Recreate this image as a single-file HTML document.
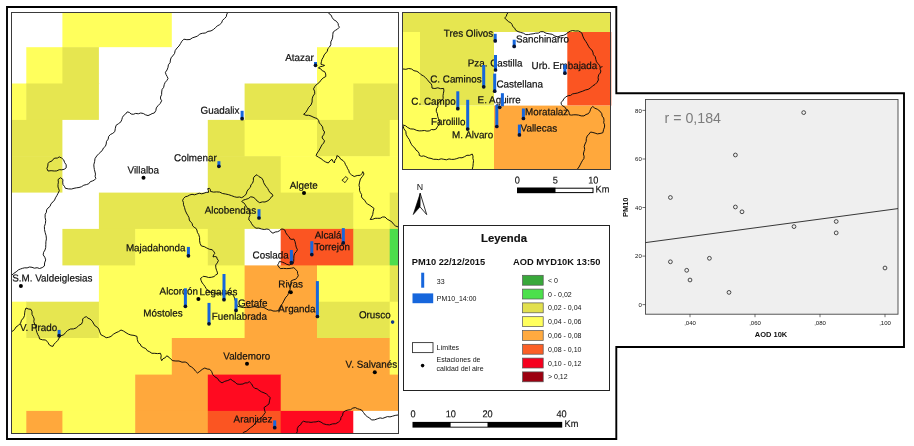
<!DOCTYPE html>
<html><head><meta charset="utf-8"><title>Mapa PM10 - AOD</title>
<style>
html,body{margin:0;padding:0;background:#fff;}
svg{display:block;font-family:"Liberation Sans",sans-serif;will-change:transform;}
</style></head><body>
<svg width="914" height="446" viewBox="0 0 914 446">
<rect x="0" y="0" width="914" height="446" fill="#fff"/>
<rect x="11" y="12" width="388" height="422" fill="#fff"/>
<rect x="11" y="12" width="52.0" height="35.8" fill="#ffffff"/>
<rect x="62.4" y="12" width="110.0" height="35.8" fill="#ffff5c"/>
<rect x="171.8" y="12" width="227.2" height="35.8" fill="#ffffff"/>
<rect x="11" y="47.2" width="15.9" height="36.9" fill="#ffffff"/>
<rect x="26.3" y="47.2" width="36.7" height="36.9" fill="#ffff5c"/>
<rect x="62.4" y="47.2" width="37.1" height="36.9" fill="#e6e650"/>
<rect x="98.9" y="47.2" width="218.7" height="36.9" fill="#ffffff"/>
<rect x="317" y="47.2" width="82.0" height="36.9" fill="#ffff5c"/>
<rect x="11" y="83.5" width="15.9" height="37.0" fill="#ffff5c"/>
<rect x="26.3" y="83.5" width="73.2" height="37.0" fill="#e6e650"/>
<rect x="98.9" y="83.5" width="146.3" height="37.0" fill="#ffffff"/>
<rect x="244.6" y="83.5" width="73.0" height="37.0" fill="#e6e650"/>
<rect x="317" y="83.5" width="36.9" height="37.0" fill="#ffff5c"/>
<rect x="353.3" y="83.5" width="45.7" height="37.0" fill="#e6e650"/>
<rect x="11" y="119.9" width="52.0" height="36.9" fill="#e6e650"/>
<rect x="62.4" y="119.9" width="146.0" height="36.9" fill="#ffffff"/>
<rect x="207.8" y="119.9" width="37.4" height="36.9" fill="#e6e650"/>
<rect x="244.6" y="119.9" width="73.0" height="36.9" fill="#ffff5c"/>
<rect x="317" y="119.9" width="73.3" height="36.9" fill="#e6e650"/>
<rect x="389.7" y="119.9" width="9.3" height="36.9" fill="#ffff5c"/>
<rect x="11" y="156.2" width="52.0" height="37.0" fill="#e6e650"/>
<rect x="62.4" y="156.2" width="146.0" height="37.0" fill="#ffffff"/>
<rect x="207.8" y="156.2" width="73.5" height="37.0" fill="#e6e650"/>
<rect x="280.7" y="156.2" width="118.3" height="37.0" fill="#ffff5c"/>
<rect x="11" y="192.6" width="88.5" height="36.9" fill="#ffffff"/>
<rect x="98.9" y="192.6" width="255.0" height="36.9" fill="#e6e650"/>
<rect x="353.3" y="192.6" width="37.0" height="36.9" fill="#ffff5c"/>
<rect x="389.7" y="192.6" width="9.3" height="36.9" fill="#e6e650"/>
<rect x="11" y="228.9" width="52.0" height="37.1" fill="#ffffff"/>
<rect x="62.4" y="228.9" width="73.4" height="37.1" fill="#e6e650"/>
<rect x="135.2" y="228.9" width="73.2" height="37.1" fill="#ffff5c"/>
<rect x="207.8" y="228.9" width="37.4" height="37.1" fill="#e6e650"/>
<rect x="244.6" y="228.9" width="36.7" height="37.1" fill="#ffffff"/>
<rect x="280.7" y="228.9" width="73.2" height="37.1" fill="#fb5522"/>
<rect x="353.3" y="228.9" width="37.0" height="37.1" fill="#e6e650"/>
<rect x="389.7" y="228.9" width="9.3" height="37.1" fill="#4cdd4c"/>
<rect x="11" y="265.4" width="88.5" height="36.9" fill="#ffffff"/>
<rect x="98.9" y="265.4" width="146.3" height="36.9" fill="#ffff5c"/>
<rect x="244.6" y="265.4" width="73.0" height="36.9" fill="#ffa83c"/>
<rect x="317" y="265.4" width="73.3" height="36.9" fill="#ffff5c"/>
<rect x="389.7" y="265.4" width="9.3" height="36.9" fill="#e6e650"/>
<rect x="11" y="301.7" width="15.9" height="36.9" fill="#ffff5c"/>
<rect x="26.3" y="301.7" width="73.2" height="36.9" fill="#e6e650"/>
<rect x="98.9" y="301.7" width="146.3" height="36.9" fill="#ffff5c"/>
<rect x="244.6" y="301.7" width="73.0" height="36.9" fill="#ffa83c"/>
<rect x="317" y="301.7" width="73.3" height="36.9" fill="#e6e650"/>
<rect x="389.7" y="301.7" width="9.3" height="36.9" fill="#ffff5c"/>
<rect x="11" y="338" width="161.4" height="37.2" fill="#ffff5c"/>
<rect x="171.8" y="338" width="218.5" height="37.2" fill="#ffa83c"/>
<rect x="389.7" y="338" width="9.3" height="37.2" fill="#ffff5c"/>
<rect x="11" y="374.6" width="124.8" height="36.9" fill="#ffff5c"/>
<rect x="135.2" y="374.6" width="73.2" height="36.9" fill="#ffa83c"/>
<rect x="207.8" y="374.6" width="73.5" height="36.9" fill="#ff0a20"/>
<rect x="280.7" y="374.6" width="118.3" height="36.9" fill="#ffa83c"/>
<rect x="11" y="410.9" width="15.9" height="23.1" fill="#ffff5c"/>
<rect x="26.3" y="410.9" width="36.7" height="23.1" fill="#ffa83c"/>
<rect x="62.4" y="410.9" width="73.4" height="23.1" fill="#ffff5c"/>
<rect x="135.2" y="410.9" width="73.2" height="23.1" fill="#ffa83c"/>
<rect x="207.8" y="410.9" width="73.5" height="23.1" fill="#fb5522"/>
<rect x="280.7" y="410.9" width="73.2" height="23.1" fill="#ff0a20"/>
<rect x="353.3" y="410.9" width="45.7" height="23.1" fill="#ffffff"/>
<path d="M228.3,12.0 L226.8,14.0 L226.3,16.6 L224.6,18.5 L222.5,20.3 L221.6,22.9 L219.6,24.7 L217.2,26.0 L215.3,27.8 L213.3,29.6 L211.0,30.9 L208.0,31.4 L205.3,33.0 L202.3,33.3 L199.6,34.1 L197.6,36.1 L195.0,37.0 L192.3,37.9 L190.0,39.5 L186.9,39.7 L183.9,39.2 L181.9,41.2 L180.5,43.6 L179.0,46.0 L177.0,48.0 L175.2,50.5 L174.5,53.6 L172.6,56.0 L171.1,57.8 L170.4,60.0 L170.1,62.6 L168.4,64.8 L168.0,67.4 L167.0,70.0 L165.4,72.3 L166.0,74.5 L167.1,76.4 L168.0,78.5 L166.8,80.6 L165.2,82.4 L164.2,84.7 L163.7,87.3 L162.1,89.4 L161.7,92.0 L161.6,94.6 L160.5,97.0 L160.6,99.0 L161.7,100.7 L160.2,103.5 L158.0,105.7 L156.3,107.9 L155.8,110.7 L154.3,113.0 L152.1,113.6 L150.1,114.7 L148.0,115.6 L145.5,114.8 L143.3,113.5 L140.7,113.0 L138.3,113.8 L135.7,113.4 L133.3,114.3 L131.1,114.0 L129.3,112.4 L127.2,111.9 L125.6,114.0 L123.5,115.6 L122.4,117.5 L121.8,119.6 L121.0,121.7 L118.6,123.6 L116.0,125.4 L115.3,128.5 L114.8,131.6 L112.8,133.3 L110.4,134.5 L108.6,136.5 L108.2,139.1 L106.5,141.4 L106.2,144.0 L105.4,146.3 L103.5,147.9 L102.5,150.0 L100.8,152.0 L98.8,153.7 L96.7,156.0 L95.0,158.6 L94.6,161.7 L93.8,164.8 L94.0,167.2 L94.4,169.6 L95.0,172.0 L95.5,174.1 L95.1,176.3 L95.8,178.4 L94.5,180.0 L92.6,180.9 L90.3,181.7 L88.7,183.8 L86.4,184.6 L83.8,185.2 L81.5,186.7 L79.0,187.5 L76.5,187.8 L74.0,188.3 L71.6,189.0 L68.5,188.9 L65.4,188.3 L64.4,186.3 L63.0,184.6 L62.7,182.1 L63.0,179.6 L60.5,177.7 L58.0,179.6 L58.4,182.1 L58.0,184.5 L58.0,187.0 L58.7,188.8 L59.3,190.7 L58.1,193.2 L56.8,195.7 L55.5,197.8 L54.6,200.0 L53.0,201.9 L51.0,203.7 L50.1,206.3 L48.0,208.0 L46.6,209.9 L46.4,212.3 L45.2,214.2 L45.1,217.3 L45.7,220.4 L45.4,223.5 L44.4,226.5 L44.5,229.6 L45.2,232.7 L46.1,235.7 L46.4,238.9 L45.9,241.7 L45.8,244.6 L45.7,247.5 L45.0,250.0 L43.6,252.3 L43.2,254.9 L44.8,257.2 L45.7,259.9 L44.6,262.9 L44.4,266.0 L42.2,267.6 L39.5,268.5 L37.1,267.7 L34.4,268.2 L32.0,267.3 L29.5,267.0 L27.1,267.9 L24.7,267.8 L22.6,268.3 L20.5,269.0 L18.5,269.8 L16.2,271.8 L13.6,273.5 L12.0,275.0" fill="none" stroke="#0a0a0a" stroke-width="0.95" stroke-linejoin="round"/>
<path d="M46.9,168.5 L47.8,166.1 L48.0,163.6 L49.4,161.9 L51.7,161.2 L53.0,159.4 L54.9,158.1 L57.3,158.1 L59.3,156.9 L61.7,158.1 L63.7,159.9 L64.6,162.5 L66.2,164.8 L66.2,167.8 L64.2,169.3 L61.7,169.8 L59.2,169.7 L56.8,170.9 L54.3,171.0 L51.1,170.7 L48.0,171.0 Z" fill="none" stroke="#0a0a0a" stroke-width="0.95" stroke-linejoin="round"/>
<path d="M12.0,331.5 L14.4,329.7 L16.0,327.0 L18.5,325.3 L20.6,323.1 L21.5,320.2 L23.5,317.9 L24.5,315.5 L24.7,312.9 L25.1,310.4 L26.0,308.0 L28.4,309.0 L30.9,309.3 L32.0,311.7 L32.0,314.4 L33.3,316.7 L34.2,319.0 L33.8,321.6 L34.6,324.0 L35.8,326.8 L36.2,329.8 L37.0,332.7 L37.9,334.8 L39.0,336.7 L39.5,338.9 L42.5,339.8 L45.7,340.0 L47.8,342.3 L49.4,345.0 L51.1,346.0 L53.0,346.3 L54.0,344.2 L55.6,342.6 L57.8,340.4 L59.3,337.7 L61.1,335.7 L63.7,334.8 L65.4,332.7 L67.6,330.5 L70.4,329.0 L73.5,328.9 L76.5,327.8 L78.7,325.5 L81.5,324.0 L82.6,321.6 L82.7,319.0 L84.3,317.4 L86.4,316.7 L88.0,318.2 L90.0,319.0 L92.3,321.2 L93.8,324.0 L95.2,326.0 L97.3,327.2 L98.8,329.0 L99.5,331.1 L100.2,333.1 L101.2,335.0 L103.8,336.2 L106.2,337.7 L108.7,337.3 L111.0,336.4 L113.3,334.3 L116.0,332.7 L118.6,331.6 L121.0,330.0 L123.6,331.1 L126.0,332.7 L128.3,334.1 L130.9,335.0 L134.0,335.4 L137.0,336.4 L137.3,339.6 L138.3,342.6 L140.2,344.0 L141.2,346.2 L143.2,347.5 L145.7,348.5 L147.3,350.7 L149.7,351.8 L151.9,353.3 L154.8,353.3 L157.6,353.6 L160.5,353.3 L161.2,355.7 L160.8,358.3 L161.7,360.7 L163.0,358.7 L165.3,357.7 L166.7,355.8 L169.0,357.2 L170.7,359.1 L172.8,360.7 L175.9,361.0 L179.0,361.0 L182.0,362.2 L185.2,362.0 L187.6,363.2 L189.1,365.6 L191.4,366.9 L193.7,368.7 L195.4,371.0 L197.5,373.0 L199.9,371.3 L202.2,369.4 L204.8,368.0 L207.2,369.0 L209.8,369.3 L211.7,371.6 L212.7,374.5 L214.7,376.7 L217.5,378.4 L219.3,381.1 L222.0,382.9 L224.8,381.3 L227.8,380.5 L230.7,379.2 L232.8,380.8 L235.0,382.1 L236.9,384.0 L239.9,384.3 L243.0,384.0 L245.0,382.9 L247.4,382.9 L249.3,381.7 L251.5,383.8 L253.0,386.6 L254.7,388.3 L257.2,388.8 L259.0,390.3 L261.4,391.8 L264.0,392.8 L266.5,394.0 L268.4,395.8 L270.2,397.7 L269.5,400.8 L269.0,403.9 L266.5,405.8 L264.0,407.6 L264.6,410.1 L265.3,412.5 L263.5,415.1 L261.6,417.5 L259.1,419.2 L256.7,421.2 L255.0,423.7 L253.0,426.0 L250.4,427.8 L248.0,429.8 L246.1,431.4 L243.7,432.2 L241.9,434.0" fill="none" stroke="#0a0a0a" stroke-width="0.95" stroke-linejoin="round"/>
<path d="M296.2,434.0 L297.3,431.4 L297.3,428.5 L298.6,426.0 L300.6,424.8 L301.7,422.5 L303.6,421.2 L306.0,422.0 L308.5,422.0 L311.0,422.4 L313.5,422.0 L316.0,421.9 L318.4,421.2 L321.0,422.1 L323.3,423.7 L326.3,424.6 L329.5,424.9 L332.5,423.9 L335.7,423.7 L338.4,422.2 L340.6,420.0 L341.0,417.4 L342.7,415.2 L343.0,412.5 L345.3,410.8 L348.0,410.0 L350.6,409.7 L352.8,408.1 L355.4,407.6 L357.4,408.7 L359.5,409.3 L361.6,410.0 L363.5,412.5 L365.3,415.0 L367.3,416.7 L369.7,418.0 L371.5,420.0 L374.7,419.8 L377.7,418.7 L380.1,417.9 L382.6,418.4 L385.0,417.5 L387.4,416.6 L390.0,416.9 L392.5,416.2 L395.2,415.4 L398.0,415.0" fill="none" stroke="#0a0a0a" stroke-width="0.95" stroke-linejoin="round"/>
<path d="M328.3,12.0 L329.3,14.0 L331.2,15.2 L332.0,17.3 L333.7,19.7 L336.3,21.2 L338.1,23.5 L338.4,25.5 L339.4,27.2 L337.5,29.1 L335.3,30.4 L333.2,32.0 L332.8,34.5 L332.7,37.1 L332.0,39.5 L330.8,41.9 L330.8,44.7 L329.5,47.0 L327.8,48.7 L327.3,51.2 L325.8,53.0 L324.2,54.9 L323.3,57.2 L322.0,59.3 L321.4,61.7 L320.9,64.2 L322.7,64.8 L324.6,65.4 L322.5,66.3 L320.3,66.7 L318.4,67.9 L320.7,68.8 L322.3,70.8 L324.6,71.6 L325.7,73.9 L325.8,76.5 L323.1,78.0 L320.9,80.2 L319.4,82.4 L317.2,84.0 L315.0,86.2 L313.5,88.9 L314.6,91.2 L314.7,93.8 L313.0,96.1 L312.2,98.8 L312.1,102.0 L311.0,105.0 L308.8,107.2 L307.3,109.9 L305.8,112.4 L303.6,114.3 L306.0,115.3 L308.6,115.3 L311.0,116.0 L313.0,117.0 L315.1,117.9 L317.2,118.5 L318.6,120.5 L319.3,122.9 L320.9,124.7 L322.6,126.9 L323.0,129.8 L324.6,132.0 L323.7,134.7 L322.0,137.0 L322.9,139.1 L324.6,140.7 L323.7,143.0 L322.0,144.8 L320.9,146.9 L319.8,149.0 L318.6,151.1 L317.2,153.0 L316.0,155.6 L318.5,157.2 L321.0,158.6 L323.3,160.5 L325.7,162.0 L328.3,163.0 L329.9,160.9 L332.0,159.3 L332.9,161.3 L334.4,163.0 L334.9,160.4 L336.5,158.2 L336.9,155.6 L339.2,156.8 L340.7,159.2 L343.0,160.5 L344.6,162.4 L345.5,164.7 L346.8,166.7 L347.6,168.7 L348.8,170.6 L349.3,172.8 L351.5,174.9 L354.2,176.5 L357.2,175.5 L360.4,175.3 L361.9,173.7 L362.8,171.6 L364.0,174.0 L362.3,176.6 L360.4,179.0 L359.6,182.1 L359.0,185.2 L359.6,187.6 L359.5,190.2 L360.4,192.6 L361.6,194.5 L361.5,196.9 L362.8,198.8 L364.8,200.3 L365.9,202.6 L367.8,204.2 L370.0,205.4 L372.0,206.9 L374.0,208.4 L373.2,211.5 L372.7,214.6 L371.6,217.1 L370.2,219.5 L372.7,219.3 L375.1,218.3 L377.7,218.3 L380.2,218.3 L382.5,217.0 L385.0,217.0 L387.2,219.2 L390.0,220.7 L392.2,222.2 L393.7,224.4 L395.6,226.0 L398.0,226.9" fill="none" stroke="#0a0a0a" stroke-width="0.95" stroke-linejoin="round"/>
<path d="M341.9,180.2 L344.0,178.6 L345.6,176.5 L348.0,178.5 L346.5,180.6 L345.0,182.7 L343.5,181.4 Z" fill="none" stroke="#0a0a0a" stroke-width="0.8" stroke-linejoin="round"/>
<path d="M183.5,204.8 L183.4,202.5 L182.6,200.4 L183.6,198.4 L185.2,196.8 L187.6,196.2 L189.7,195.0 L192.0,194.3 L194.6,194.8 L196.9,194.0 L199.2,193.2 L201.7,193.8 L204.0,193.2 L206.2,192.4 L208.6,192.3 L208.4,190.4 L207.7,188.7 L209.5,188.3 L210.4,189.7 L210.4,191.4 L213.5,192.1 L216.6,191.9 L219.7,192.1 L222.5,193.5 L225.6,194.0 L228.7,194.7 L231.6,195.7 L234.6,196.8 L236.9,197.3 L239.4,197.0 L241.7,197.7 L244.2,196.2 L246.2,194.0 L247.1,191.1 L248.9,188.7 L250.5,187.2 L250.9,184.8 L252.5,183.3 L253.4,180.7 L253.4,177.9 L254.9,176.0 L257.0,174.7 L259.0,176.7 L261.5,177.9 L263.0,180.1 L263.7,182.7 L265.0,185.0 L266.3,186.8 L267.7,188.5 L268.7,190.5 L269.9,192.5 L271.9,193.8 L273.0,195.9 L271.3,196.9 L270.4,198.6 L268.0,200.7 L265.0,202.0 L262.3,201.9 L259.7,202.7 L257.1,201.0 L255.2,198.6 L253.1,197.2 L250.7,196.8 L248.2,198.6 L245.3,199.5 L243.2,200.1 L241.7,201.6 L243.8,202.8 L245.3,204.8 L246.7,207.4 L248.9,209.3 L249.8,212.4 L249.8,215.6 L248.9,217.7 L248.9,220.0 L250.6,221.6 L251.6,223.7 L253.5,226.3 L256.0,228.2 L258.8,228.1 L261.5,229.0 L264.2,229.5 L266.9,229.0 L268.9,229.5 L270.4,230.9 L271.4,232.4 L273.0,233.2 L275.2,232.0 L277.6,231.7 L279.7,230.7 L281.2,229.0 L283.1,229.1 L284.8,230.0 L285.8,232.8 L287.5,235.3 L289.2,236.9 L290.2,239.0 L292.0,239.4 L293.8,239.0 L295.0,241.5 L295.6,244.3 L296.2,247.1 L297.4,249.7 L296.3,251.7 L294.7,253.3 L293.9,255.9 L293.8,258.7 L293.7,261.4 L292.9,264.0 L291.0,264.2 L289.3,265.0 L286.9,264.4 L284.8,263.2 L282.2,262.1 L279.4,261.4 L278.7,263.3 L277.6,265.0 L278.8,266.9 L280.3,268.6 L283.5,268.4 L286.6,268.6 L289.0,268.5 L291.4,268.2 L293.8,267.7 L295.7,269.4 L297.4,271.3 L297.6,273.5 L298.3,275.7 L297.1,277.6 L295.6,279.3 L293.2,279.9 L291.0,281.0 L291.0,283.2 L290.0,285.2 L290.2,287.4 L290.1,289.6 L288.6,291.4 L288.4,293.6 L287.5,295.6 L285.9,297.1 L284.8,299.0 L283.7,301.1 L282.6,303.3 L281.2,305.2 L279.6,307.8 L278.5,310.6 L275.8,311.1 L273.0,311.0 L271.0,310.0 L268.6,310.1 L266.6,309.0 L263.9,307.5 L260.8,307.0 L257.9,307.5 L254.9,306.6 L252.0,307.0 L249.1,307.6 L246.2,307.3 L243.3,307.6 L240.4,307.0 L237.5,306.3 L236.7,304.2 L236.1,302.0 L235.0,300.0 L234.5,298.0 L233.5,295.5 L231.5,293.9 L229.2,292.8 L226.5,293.4 L223.8,293.5 L221.6,293.1 L219.3,293.3 L216.6,293.4 L214.0,293.0 L211.8,292.3 L209.5,292.0 L207.6,290.3 L206.0,288.3 L204.9,286.4 L203.7,284.7 L202.3,283.0 L201.2,280.8 L200.5,278.4 L202.0,277.5 L203.2,276.3 L206.0,276.7 L208.6,277.5 L211.3,277.3 L214.0,276.6 L215.6,275.1 L217.5,274.0 L217.3,272.1 L216.6,270.4 L215.8,267.8 L215.7,265.0 L217.3,262.9 L218.4,260.5 L217.2,258.9 L216.6,256.9 L214.8,256.5 L213.0,256.9 L213.6,254.9 L214.8,253.3 L213.7,251.3 L212.0,249.7 L209.3,249.2 L206.8,248.0 L204.2,246.6 L201.4,246.0 L200.1,243.5 L199.6,240.8 L199.6,237.6 L198.7,234.5 L197.4,232.4 L196.9,230.0 L195.9,228.3 L194.2,227.3 L192.6,225.8 L192.2,223.4 L190.6,221.9 L189.3,220.0 L189.0,217.6 L187.9,215.6 L186.4,213.0 L185.2,210.2 L184.5,207.4 Z" fill="none" stroke="#0a0a0a" stroke-width="0.95" stroke-linejoin="round"/>
<circle cx="143.5" cy="177.7" r="2" fill="#000"/>
<circle cx="304.0" cy="192.9" r="2" fill="#000"/>
<circle cx="20.9" cy="286.1" r="2" fill="#000"/>
<circle cx="198.4" cy="299.0" r="2" fill="#000"/>
<circle cx="290.8" cy="292.3" r="2" fill="#000"/>
<circle cx="247.0" cy="363.8" r="2" fill="#000"/>
<circle cx="374.8" cy="372.2" r="2" fill="#000"/>
<text transform="translate(285.3,61.0) rotate(0.05) scale(0.966,1)" font-size="10.2" fill="#111" stroke="#111" stroke-width="0.22">Atazar</text>
<text transform="translate(200.6,113.8) rotate(0.05) scale(0.966,1)" font-size="10.2" fill="#111" stroke="#111" stroke-width="0.22">Guadalix</text>
<text transform="translate(174.1,161.2) rotate(0.05) scale(0.966,1)" font-size="10.2" fill="#111" stroke="#111" stroke-width="0.22">Colmenar</text>
<text transform="translate(127.5,173.6) rotate(0.05) scale(0.966,1)" font-size="10.2" fill="#111" stroke="#111" stroke-width="0.22">Villalba</text>
<text transform="translate(289.7,188.8) rotate(0.05) scale(0.966,1)" font-size="10.2" fill="#111" stroke="#111" stroke-width="0.22">Algete</text>
<text transform="translate(204.7,213.6) rotate(0.05) scale(0.966,1)" font-size="10.2" fill="#111" stroke="#111" stroke-width="0.22">Alcobendas</text>
<text transform="translate(125.9,251.3) rotate(0.05) scale(0.966,1)" font-size="10.2" fill="#111" stroke="#111" stroke-width="0.22">Majadahonda</text>
<text transform="translate(252.6,258.4) rotate(0.05) scale(0.966,1)" font-size="10.2" fill="#111" stroke="#111" stroke-width="0.22">Coslada</text>
<text transform="translate(314.7,238.6) rotate(0.05) scale(0.966,1)" font-size="10.2" fill="#111" stroke="#111" stroke-width="0.22">Alcalá</text>
<text transform="translate(314.3,250.3) rotate(0.05) scale(0.966,1)" font-size="10.2" fill="#111" stroke="#111" stroke-width="0.22">Torrejón</text>
<text transform="translate(12.2,281.5) rotate(0.05) scale(0.966,1)" font-size="10.2" fill="#111" stroke="#111" stroke-width="0.22">S.M. Valdeiglesias</text>
<text transform="translate(159.6,294.6) rotate(0.05) scale(0.966,1)" font-size="10.2" fill="#111" stroke="#111" stroke-width="0.22">Alcorcón</text>
<text transform="translate(199.6,295.3) rotate(0.05) scale(0.966,1)" font-size="10.2" fill="#111" stroke="#111" stroke-width="0.22">Leganés</text>
<text transform="translate(143.3,316.5) rotate(0.05) scale(0.966,1)" font-size="10.2" fill="#111" stroke="#111" stroke-width="0.22">Móstoles</text>
<text transform="translate(237.9,306.6) rotate(0.05) scale(0.966,1)" font-size="10.2" fill="#111" stroke="#111" stroke-width="0.22">Getafe</text>
<text transform="translate(211.7,319.7) rotate(0.05) scale(0.966,1)" font-size="10.2" fill="#111" stroke="#111" stroke-width="0.22">Fuenlabrada</text>
<text transform="translate(278.3,287.6) rotate(0.05) scale(0.966,1)" font-size="10.2" fill="#111" stroke="#111" stroke-width="0.22">Rivas</text>
<text transform="translate(278.3,312.2) rotate(0.05) scale(0.966,1)" font-size="10.2" fill="#111" stroke="#111" stroke-width="0.22">Arganda</text>
<text transform="translate(358.9,318.3) rotate(0.05) scale(0.966,1)" font-size="10.2" fill="#111" stroke="#111" stroke-width="0.22">Orusco</text>
<text transform="translate(19.9,331.0) rotate(0.05) scale(0.966,1)" font-size="10.2" fill="#111" stroke="#111" stroke-width="0.22">V. Prado</text>
<text transform="translate(223.3,359.5) rotate(0.05) scale(0.966,1)" font-size="10.2" fill="#111" stroke="#111" stroke-width="0.22">Valdemoro</text>
<text transform="translate(345.6,367.8) rotate(0.05) scale(0.966,1)" font-size="10.2" fill="#111" stroke="#111" stroke-width="0.22">V. Salvanés</text>
<text transform="translate(233.6,422.4) rotate(0.05) scale(0.966,1)" font-size="10.2" fill="#111" stroke="#111" stroke-width="0.22">Aranjuez</text>
<rect x="314.0" y="62.0" width="3" height="3.3" fill="#1666dc"/>
<circle cx="315.5" cy="65.3" r="1.85" fill="#08122e"/>
<rect x="240.6" y="110.8" width="3" height="7.9" fill="#1666dc"/>
<circle cx="242.1" cy="118.7" r="1.85" fill="#08122e"/>
<rect x="217.4" y="161.2" width="3" height="5.1" fill="#1666dc"/>
<circle cx="218.9" cy="166.3" r="1.85" fill="#08122e"/>
<rect x="257.5" y="209.2" width="3" height="8.8" fill="#1666dc"/>
<circle cx="259.0" cy="218.0" r="1.85" fill="#08122e"/>
<rect x="186.9" y="246.9" width="3" height="8.9" fill="#1666dc"/>
<circle cx="188.4" cy="255.8" r="1.85" fill="#08122e"/>
<rect x="289.9" y="250.0" width="3" height="12.6" fill="#1666dc"/>
<circle cx="291.4" cy="262.6" r="1.85" fill="#08122e"/>
<rect x="341.8" y="228.1" width="3" height="14.8" fill="#1666dc"/>
<circle cx="343.3" cy="242.9" r="1.85" fill="#08122e"/>
<rect x="310.3" y="241.2" width="3" height="13.4" fill="#1666dc"/>
<circle cx="311.8" cy="254.6" r="1.85" fill="#08122e"/>
<rect x="183.9" y="288.3" width="3" height="18.0" fill="#1666dc"/>
<circle cx="185.4" cy="306.3" r="1.85" fill="#08122e"/>
<rect x="222.5" y="274.0" width="3" height="25.7" fill="#1666dc"/>
<circle cx="224.0" cy="299.7" r="1.85" fill="#08122e"/>
<rect x="234.5" y="298.2" width="3" height="12.2" fill="#1666dc"/>
<circle cx="236.0" cy="310.4" r="1.85" fill="#08122e"/>
<rect x="207.5" y="302.9" width="3" height="20.9" fill="#1666dc"/>
<circle cx="209.0" cy="323.8" r="1.85" fill="#08122e"/>
<rect x="315.9" y="281.1" width="3" height="35.4" fill="#1666dc"/>
<circle cx="317.4" cy="316.5" r="1.85" fill="#08122e"/>
<rect x="57.6" y="329.9" width="3" height="5.8" fill="#1666dc"/>
<circle cx="59.1" cy="335.7" r="1.85" fill="#08122e"/>
<rect x="273.2" y="420.4" width="3" height="7.3" fill="#1666dc"/>
<circle cx="274.7" cy="427.7" r="1.85" fill="#08122e"/>
<circle cx="392.6" cy="322.1" r="1.8" fill="#123c8c"/>
<rect x="11.5" y="12.5" width="387" height="421" fill="none" stroke="#3a3a3a" stroke-width="1"/>
<g>
<rect x="402.5" y="12" width="208" height="157.5" fill="#fff"/>
<rect x="402" y="12" width="209" height="20" fill="#e6e650"/>
<rect x="402" y="32" width="18" height="138" fill="#ffff5c"/>
<rect x="420" y="32" width="74" height="73.6" fill="#e6e650"/>
<rect x="420" y="105.6" width="74" height="64.4" fill="#ffff5c"/>
<rect x="567.3" y="32" width="44" height="73.6" fill="#fb5522"/>
<rect x="494" y="105.6" width="117" height="64.4" fill="#ffa83c"/>
<path d="M508.5,12.4 L506.9,14.1 L506.3,16.4 L504.6,18.0 L506.9,20.0 L508.4,21.7 L510.6,22.6 L512.0,24.4 L512.8,26.6 L514.7,28.1 L515.6,30.2 L518.0,31.6 L520.7,32.4 L523.4,33.2 L525.8,34.6 L528.3,34.6 L530.7,34.1 L533.1,33.8 L535.6,33.2 L538.3,33.1 L540.6,31.7 L543.3,31.7 L546.0,33.2 L549.1,33.8 L552.2,34.3 L554.9,36.1 L557.9,36.8 L560.7,35.8 L563.7,35.3 L566.1,34.1 L568.1,32.4 L570.2,31.2 L572.5,30.5 L575.4,31.0 L578.3,30.9 L580.2,31.8 L581.9,33.1 L582.8,36.1 L584.1,39.0 L585.7,41.3 L587.2,43.7 L588.5,46.2 L589.8,48.3 L591.8,49.9 L592.9,52.1 L593.4,54.7 L595.3,56.8 L595.8,59.4 L596.5,61.8 L598.0,63.7 L599.5,65.3 L600.2,67.4 L600.1,69.3 L600.9,71.0 L600.2,73.1 L598.7,74.8 L598.1,77.4 L598.4,80.0 L597.0,82.5 L595.0,84.5 L592.6,85.9 L590.6,87.9 L588.1,89.4 L585.3,90.0 L582.7,91.2 L580.1,92.0 L577.6,93.0 L574.9,93.5 L572.6,93.9 L570.6,95.4 L568.2,95.7 L565.7,96.9 L563.7,99.0 L562.7,101.0 L561.0,102.4 L561.3,104.3 L562.5,105.8 L564.7,106.9 L566.1,109.1 L568.2,110.3 L569.1,112.5 L569.3,114.8 L571.5,115.1 L573.8,114.8 L576.0,114.8 L578.6,115.1 L581.2,115.9 L583.9,115.9 L586.0,114.5 L588.4,113.7 L589.8,111.6 L590.6,109.2 L591.4,107.6 L592.8,106.5 L594.8,108.2 L597.3,109.2 L599.9,111.1 L601.8,113.7 L602.1,116.1 L603.7,118.0 L604.0,120.4 L603.7,122.7 L604.6,124.8 L604.5,127.1 L603.5,129.8 L602.9,132.7 L600.1,133.5 L597.3,133.9 L595.1,133.1 L592.9,132.5 L590.6,132.0 L589.0,134.1 L587.2,136.0 L586.3,138.6 L586.2,141.5 L585.0,144.0 L584.2,146.5 L584.7,149.3 L583.9,151.8 L583.4,154.0 L584.1,156.3 L583.9,158.5 L582.6,160.3 L581.5,162.2 L580.5,164.2 L579.0,167.0 L577.1,169.5" fill="none" stroke="#0a0a0a" stroke-width="0.95" stroke-linejoin="round"/>
<path d="M600.2,67.4 L602.5,66.6" fill="none" stroke="#0a0a0a" stroke-width="0.95" stroke-linejoin="round"/>
<path d="M403.0,69.0 L405.9,69.3 L408.7,68.5 L411.6,69.0 L413.9,70.7 L416.9,71.3 L419.3,72.9 L421.1,74.7 L423.4,75.9 L425.4,77.5 L427.3,79.6 L429.0,81.9 L431.2,83.7 L431.9,85.8 L432.0,88.1 L434.9,88.5 L437.8,87.8 L440.7,88.7 L443.6,88.4 L443.9,90.9 L443.4,93.3 L443.0,95.8 L443.2,98.3 L441.6,100.5 L439.2,101.9 L437.8,104.2 L437.8,106.7 L436.4,108.9 L436.3,111.4 L437.4,113.7 L437.7,116.3 L438.5,118.7 L439.3,120.9 L440.0,123.1 L438.7,125.0 L437.3,126.8 L436.3,128.9 L434.0,129.8 L431.5,129.5 L429.3,130.9 L426.9,131.1 L424.4,130.5 L421.8,130.8 L419.2,130.9 L416.7,130.4 L413.8,129.1 L410.5,128.9 L407.7,127.5 L405.6,125.8 L403.0,125.0" fill="none" stroke="#0a0a0a" stroke-width="0.95" stroke-linejoin="round"/>
<path d="M403.0,125.8 L403.9,128.8 L405.8,131.4 L406.2,134.6 L407.7,137.4 L409.3,139.5 L410.2,141.9 L411.4,144.3 L412.9,146.4 L414.8,147.9 L416.0,150.1 L418.0,151.5 L419.1,153.3 L419.3,155.4 L421.4,156.3 L423.7,155.9 L425.8,156.7 L428.2,157.9 L431.0,158.4 L433.5,159.3 L436.1,159.3 L438.6,159.6 L441.2,158.8 L443.8,159.3 L446.4,159.8 L449.0,158.9 L451.6,159.4 L454.2,159.3 L456.8,158.6 L459.3,157.7 L462.0,157.8 L464.5,156.7 L466.9,155.3 L469.8,155.3 L472.2,154.0 L473.0,156.1 L472.9,158.4 L473.5,160.6 L473.2,163.6 L472.9,166.6 L472.2,169.5" fill="none" stroke="#0a0a0a" stroke-width="0.95" stroke-linejoin="round"/>
<text transform="translate(443.8,36.8) rotate(0.05) scale(0.966,1)" font-size="10.2" fill="#111" stroke="#111" stroke-width="0.22">Tres Olivos</text>
<text transform="translate(516.0,42.4) rotate(0.05) scale(0.966,1)" font-size="10.2" fill="#111" stroke="#111" stroke-width="0.22">Sanchinarro</text>
<text transform="translate(467.7,66.4) rotate(0.05) scale(0.966,1)" font-size="10.2" fill="#111" stroke="#111" stroke-width="0.22">Pza. Castilla</text>
<text transform="translate(531.6,68.9) rotate(0.05) scale(0.966,1)" font-size="10.2" fill="#111" stroke="#111" stroke-width="0.22">Urb. Embajada</text>
<text transform="translate(430.2,82.5) rotate(0.05) scale(0.966,1)" font-size="10.2" fill="#111" stroke="#111" stroke-width="0.22">C. Caminos</text>
<text transform="translate(496.5,87.5) rotate(0.05) scale(0.966,1)" font-size="10.2" fill="#111" stroke="#111" stroke-width="0.22">Castellana</text>
<text transform="translate(411.3,104.7) rotate(0.05) scale(0.966,1)" font-size="10.2" fill="#111" stroke="#111" stroke-width="0.22">C. Campo</text>
<text transform="translate(477.6,103.2) rotate(0.05) scale(0.966,1)" font-size="10.2" fill="#111" stroke="#111" stroke-width="0.22">E. Aguirre</text>
<text transform="translate(430.9,125.1) rotate(0.05) scale(0.966,1)" font-size="10.2" fill="#111" stroke="#111" stroke-width="0.22">Farolillo</text>
<text transform="translate(452.1,138.2) rotate(0.05) scale(0.966,1)" font-size="10.2" fill="#111" stroke="#111" stroke-width="0.22">M. Alvaro</text>
<text transform="translate(525.0,115.2) rotate(0.05) scale(0.966,1)" font-size="10.2" fill="#111" stroke="#111" stroke-width="0.22">Moratalaz</text>
<text transform="translate(520.6,131.6) rotate(0.05) scale(0.966,1)" font-size="10.2" fill="#111" stroke="#111" stroke-width="0.22">Vallecas</text>
<rect x="493.7" y="33.8" width="3" height="7.1" fill="#1666dc"/>
<circle cx="495.2" cy="40.9" r="1.85" fill="#08122e"/>
<rect x="512.7" y="39.7" width="3" height="6.7" fill="#1666dc"/>
<circle cx="514.2" cy="46.4" r="1.85" fill="#08122e"/>
<rect x="494.0" y="55.0" width="3" height="15.0" fill="#1666dc"/>
<circle cx="495.5" cy="70.0" r="1.85" fill="#08122e"/>
<rect x="563.4" y="64.5" width="3" height="8.7" fill="#1666dc"/>
<circle cx="564.9" cy="73.2" r="1.85" fill="#08122e"/>
<rect x="482.2" y="65.0" width="3" height="21.8" fill="#1666dc"/>
<circle cx="483.7" cy="86.8" r="1.85" fill="#08122e"/>
<rect x="493.2" y="73.6" width="3" height="17.6" fill="#1666dc"/>
<circle cx="494.7" cy="91.2" r="1.85" fill="#08122e"/>
<rect x="456.3" y="91.3" width="3" height="17.4" fill="#1666dc"/>
<circle cx="457.8" cy="108.7" r="1.85" fill="#08122e"/>
<rect x="466.2" y="99.8" width="3" height="29.3" fill="#1666dc"/>
<circle cx="467.7" cy="129.1" r="1.85" fill="#08122e"/>
<rect x="495.3" y="104.9" width="3" height="21.6" fill="#1666dc"/>
<circle cx="496.8" cy="126.5" r="1.85" fill="#08122e"/>
<rect x="521.9" y="108.5" width="3" height="10.0" fill="#1666dc"/>
<circle cx="523.4" cy="118.5" r="1.85" fill="#08122e"/>
<rect x="517.9" y="124.6" width="3" height="10.3" fill="#1666dc"/>
<circle cx="519.4" cy="134.9" r="1.85" fill="#08122e"/>
<rect x="500.9" y="93.2" width="3" height="13.1" fill="#1666dc"/>
<circle cx="499.7" cy="107.3" r="1.85" fill="#08122e"/>
<rect x="402.5" y="12.5" width="208" height="157" fill="none" stroke="#3a3a3a" stroke-width="1"/>
</g>
<rect x="517.5" y="188.2" width="75.5" height="4.4" fill="#fff" stroke="#000" stroke-width="1"/>
<rect x="517" y="187.7" width="38.5" height="5.4" fill="#000"/>
<text transform="translate(517.4,183.5) rotate(0.05) scale(0.93,1)" font-size="9.9" text-anchor="middle" fill="#111" stroke="#111" stroke-width="0.15">0</text>
<text transform="translate(555.2,183.5) rotate(0.05) scale(0.93,1)" font-size="9.9" text-anchor="middle" fill="#111" stroke="#111" stroke-width="0.15">5</text>
<text transform="translate(593.3,183.5) rotate(0.05) scale(0.93,1)" font-size="9.9" text-anchor="middle" fill="#111" stroke="#111" stroke-width="0.15">10</text>
<text transform="translate(595.6,192.5) rotate(0.05) scale(0.93,1)" font-size="9.9" text-anchor="start" fill="#111" stroke="#111" stroke-width="0.15">Km</text>
<text x="420.0" y="190.2" font-size="8.8" text-anchor="middle" font-weight="normal" fill="#111">N</text>
<path d="M420.2,193.3 L413.2,214.6 L420,206.8 Z" fill="#000" stroke="#000" stroke-width="0.6"/>
<path d="M420.2,193.3 L426.7,214.6 L420,206.8 Z" fill="#fff" stroke="#000" stroke-width="0.8"/>
<rect x="403.5" y="225.5" width="206" height="165" fill="#fff" stroke="#222" stroke-width="1"/>
<text x="504.0" y="242.2" font-size="11.3" text-anchor="middle" font-weight="bold" fill="#111" stroke="#111" stroke-width="0.2">Leyenda</text>
<text x="411.8" y="265.3" font-size="9.3" text-anchor="start" font-weight="bold" fill="#111">PM10 22/12/2015</text>
<text x="513.0" y="265.3" font-size="9.3" text-anchor="start" font-weight="bold" fill="#111">AOD MYD10K 13:50</text>
<rect x="421.2" y="272.7" width="3" height="15" fill="#1666dc"/>
<text x="436.8" y="283.7" font-size="7" text-anchor="start" font-weight="normal" fill="#111">33</text>
<rect x="412.5" y="293.4" width="20.7" height="9.8" fill="#1666dc"/>
<text x="436.8" y="301.0" font-size="7" text-anchor="start" font-weight="normal" fill="#111">PM10_14:00</text>
<rect x="412.5" y="342.6" width="20.5" height="10" fill="#fff" stroke="#333" stroke-width="0.9"/>
<text x="436.5" y="349.9" font-size="7" text-anchor="start" font-weight="normal" fill="#111">Límites</text>
<circle cx="422.6" cy="365.6" r="1.8" fill="#000"/>
<text x="436.5" y="362.3" font-size="7" text-anchor="start" font-weight="normal" fill="#111">Estaciones de</text>
<text x="436.5" y="370.8" font-size="7" text-anchor="start" font-weight="normal" fill="#111">calidad del aire</text>
<rect x="522.6" y="275.3" width="20.6" height="9.9" fill="#38a83a" stroke="#555" stroke-width="0.7"/>
<text x="548.0" y="282.8" font-size="7" text-anchor="start" font-weight="normal" fill="#111">&lt; 0</text>
<rect x="522.6" y="289.1" width="20.6" height="9.9" fill="#4ce04c" stroke="#555" stroke-width="0.7"/>
<text x="548.0" y="296.6" font-size="7" text-anchor="start" font-weight="normal" fill="#111">0 - 0,02</text>
<rect x="522.6" y="302.9" width="20.6" height="9.9" fill="#e2e04e" stroke="#555" stroke-width="0.7"/>
<text x="548.0" y="310.4" font-size="7" text-anchor="start" font-weight="normal" fill="#111">0,02 - 0,04</text>
<rect x="522.6" y="316.7" width="20.6" height="9.9" fill="#ffff5c" stroke="#555" stroke-width="0.7"/>
<text x="548.0" y="324.2" font-size="7" text-anchor="start" font-weight="normal" fill="#111">0,04 - 0,06</text>
<rect x="522.6" y="330.5" width="20.6" height="9.9" fill="#ffaa40" stroke="#555" stroke-width="0.7"/>
<text x="548.0" y="338.0" font-size="7" text-anchor="start" font-weight="normal" fill="#111">0,06 - 0,08</text>
<rect x="522.6" y="344.3" width="20.6" height="9.9" fill="#fb5f26" stroke="#555" stroke-width="0.7"/>
<text x="548.0" y="351.8" font-size="7" text-anchor="start" font-weight="normal" fill="#111">0,08 - 0,10</text>
<rect x="522.6" y="358.1" width="20.6" height="9.9" fill="#f5001e" stroke="#555" stroke-width="0.7"/>
<text x="548.0" y="365.6" font-size="7" text-anchor="start" font-weight="normal" fill="#111">0,10 - 0,12</text>
<rect x="522.6" y="371.9" width="20.6" height="9.9" fill="#9c0010" stroke="#555" stroke-width="0.7"/>
<text x="548.0" y="379.4" font-size="7" text-anchor="start" font-weight="normal" fill="#111">&gt; 0,12</text>
<rect x="412.5" y="421.9" width="149.7" height="5.7" fill="#000"/>
<rect x="450.6" y="422.8" width="36.9" height="3.9" fill="#fff"/>
<text transform="translate(413.0,417.2) rotate(0.05) scale(0.93,1)" font-size="9.9" text-anchor="middle" fill="#111" stroke="#111" stroke-width="0.15">0</text>
<text transform="translate(450.8,417.2) rotate(0.05) scale(0.93,1)" font-size="9.9" text-anchor="middle" fill="#111" stroke="#111" stroke-width="0.15">10</text>
<text transform="translate(487.5,417.2) rotate(0.05) scale(0.93,1)" font-size="9.9" text-anchor="middle" fill="#111" stroke="#111" stroke-width="0.15">20</text>
<text transform="translate(561.6,417.2) rotate(0.05) scale(0.93,1)" font-size="9.9" text-anchor="middle" fill="#111" stroke="#111" stroke-width="0.15">40</text>
<text transform="translate(564.5,427.1) rotate(0.05) scale(0.93,1)" font-size="9.9" text-anchor="start" fill="#111" stroke="#111" stroke-width="0.15">Km</text>
<path d="M7,7 H616.3 V93.3 H904 V347 H616.3 V439 H7 Z" fill="none" stroke="#000" stroke-width="1.9"/>
<rect x="645.5" y="99.5" width="252.5" height="214.7" fill="#efefef" stroke="#444" stroke-width="0.9"/>
<line x1="645.5" y1="242.6" x2="898" y2="208.6" stroke="#222" stroke-width="0.9"/>
<circle cx="803.7" cy="112.6" r="1.9" fill="none" stroke="#222" stroke-width="0.8"/>
<circle cx="735.4" cy="155" r="1.9" fill="none" stroke="#222" stroke-width="0.8"/>
<circle cx="670.4" cy="197.5" r="1.9" fill="none" stroke="#222" stroke-width="0.8"/>
<circle cx="735.4" cy="207" r="1.9" fill="none" stroke="#222" stroke-width="0.8"/>
<circle cx="742" cy="211.8" r="1.9" fill="none" stroke="#222" stroke-width="0.8"/>
<circle cx="794" cy="226.6" r="1.9" fill="none" stroke="#222" stroke-width="0.8"/>
<circle cx="836.2" cy="221.5" r="1.9" fill="none" stroke="#222" stroke-width="0.8"/>
<circle cx="836.2" cy="232.9" r="1.9" fill="none" stroke="#222" stroke-width="0.8"/>
<circle cx="670.4" cy="261.8" r="1.9" fill="none" stroke="#222" stroke-width="0.8"/>
<circle cx="686.7" cy="270.3" r="1.9" fill="none" stroke="#222" stroke-width="0.8"/>
<circle cx="690" cy="280" r="1.9" fill="none" stroke="#222" stroke-width="0.8"/>
<circle cx="709.4" cy="258.3" r="1.9" fill="none" stroke="#222" stroke-width="0.8"/>
<circle cx="729" cy="292.4" r="1.9" fill="none" stroke="#222" stroke-width="0.8"/>
<circle cx="885" cy="268" r="1.9" fill="none" stroke="#222" stroke-width="0.8"/>
<line x1="642.5" y1="304.6" x2="645.5" y2="304.6" stroke="#333" stroke-width="0.7"/>
<text x="641.8" y="306.8" font-size="6" text-anchor="end" font-weight="normal" fill="#111">0</text>
<line x1="642.5" y1="256.1" x2="645.5" y2="256.1" stroke="#333" stroke-width="0.7"/>
<text x="641.8" y="258.2" font-size="6" text-anchor="end" font-weight="normal" fill="#111">20</text>
<line x1="642.5" y1="207.5" x2="645.5" y2="207.5" stroke="#333" stroke-width="0.7"/>
<text x="641.8" y="209.7" font-size="6" text-anchor="end" font-weight="normal" fill="#111">40</text>
<line x1="642.5" y1="159.0" x2="645.5" y2="159.0" stroke="#333" stroke-width="0.7"/>
<text x="641.8" y="161.1" font-size="6" text-anchor="end" font-weight="normal" fill="#111">60</text>
<line x1="642.5" y1="110.4" x2="645.5" y2="110.4" stroke="#333" stroke-width="0.7"/>
<text x="641.8" y="112.6" font-size="6" text-anchor="end" font-weight="normal" fill="#111">80</text>
<line x1="690" y1="314.2" x2="690" y2="317.2" stroke="#333" stroke-width="0.7"/>
<text x="690.0" y="324.5" font-size="6" text-anchor="middle" font-weight="normal" fill="#111">,040</text>
<line x1="755" y1="314.2" x2="755" y2="317.2" stroke="#333" stroke-width="0.7"/>
<text x="755.0" y="324.5" font-size="6" text-anchor="middle" font-weight="normal" fill="#111">,060</text>
<line x1="820" y1="314.2" x2="820" y2="317.2" stroke="#333" stroke-width="0.7"/>
<text x="820.0" y="324.5" font-size="6" text-anchor="middle" font-weight="normal" fill="#111">,080</text>
<line x1="885" y1="314.2" x2="885" y2="317.2" stroke="#333" stroke-width="0.7"/>
<text x="885.0" y="324.5" font-size="6" text-anchor="middle" font-weight="normal" fill="#111">,100</text>
<text x="771.0" y="337.4" font-size="7.5" text-anchor="middle" font-weight="bold" fill="#111">AOD 10K</text>
<text x="0" y="0" font-size="7.5" font-weight="bold" text-anchor="middle" fill="#111" transform="translate(628,207.3) rotate(-90)">PM10</text>
<text x="664.5" y="123.2" font-size="15" text-anchor="start" font-weight="normal" fill="#7c7c7c" textLength="56.5" lengthAdjust="spacingAndGlyphs">r = 0,184</text>
</svg>
</body></html>
